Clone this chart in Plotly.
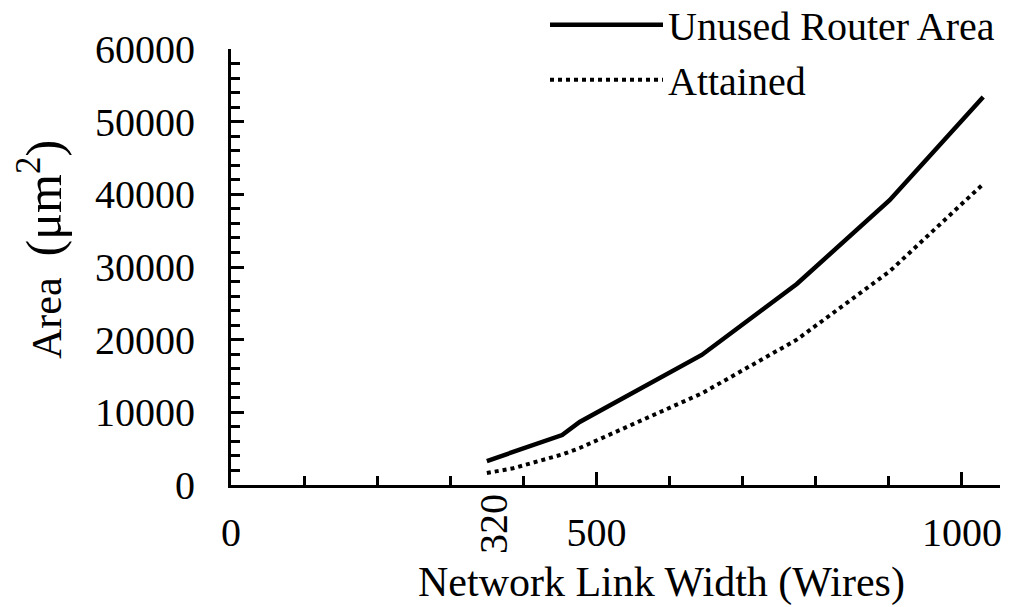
import plotly.graph_objects as go

# Data
link_width = [350, 386, 453, 477, 644, 774, 901, 1029]
unused_router_area = [3300, 4540, 6880, 8670, 17900, 27660, 39200, 53400]
attained = [1650, 2300, 4200, 5090, 12600, 20000, 29400, 41420]

x_tick_vals = [0, 500, 1000]
x_tick_text = ["0", "500", "1000"]
y_tick_vals = [0, 10000, 20000, 30000, 40000, 50000, 60000]
y_tick_text = ["0", "10000", "20000", "30000", "40000", "50000", "60000"]
first_label = "320"

FONT = "'Liberation Serif', 'DejaVu Serif', serif"

fig = go.Figure()
fig.add_trace(go.Scatter(x=link_width, y=unused_router_area, mode="lines",
                         name="Unused Router Area",
                         line=dict(color="black", width=4.5)))
fig.add_trace(go.Scatter(x=link_width, y=attained, mode="lines",
                         name="Attained",
                         line=dict(color="black", width=4, dash="dot")))

fig.update_layout(
    width=1025, height=607,
    margin=dict(l=231, r=25, t=49, b=122, autoexpand=False),
    paper_bgcolor="white", plot_bgcolor="white",
    font=dict(family=FONT, size=40, color="black"),
    showlegend=True,
    legend=dict(x=1.0, y=1.13, xanchor="right", yanchor="top",
                bgcolor="rgba(0,0,0,0)", itemwidth=113,
                font=dict(family=FONT, size=40), tracegroupgap=0),
    xaxis=dict(range=[0, 1052], tickvals=x_tick_vals, ticktext=x_tick_text,
               showgrid=False, zeroline=False, showline=True,
               linecolor="black", linewidth=3,
               ticks="inside", ticklen=13, tickwidth=3, tickcolor="black",
               ticklabelstandoff=10,
               minor=dict(dtick=100, ticks="inside", ticklen=9, tickwidth=3,
                          tickcolor="black", showgrid=False),
               tickfont=dict(family=FONT, size=40)),
    yaxis=dict(range=[0, 60000], tickvals=y_tick_vals, ticktext=y_tick_text,
               showgrid=False, zeroline=False, showline=True,
               linecolor="black", linewidth=3,
               ticks="inside", ticklen=13, tickwidth=3, tickcolor="black",
               ticklabelstandoff=25,
               minor=dict(dtick=2000, ticks="inside", ticklen=9, tickwidth=3,
                          tickcolor="black", showgrid=False),
               tickfont=dict(family=FONT, size=40)),
)

fig.add_annotation(text=first_label, x=link_width[0], xref="x", xshift=6,
                   y=-0.09, yref="paper", textangle=-90, showarrow=False,
                   xanchor="center", yanchor="middle",
                   font=dict(family=FONT, size=40))
fig.add_annotation(text="Network Link Width (Wires)",
                   x=(661 - 231) / (1000 - 231), xref="paper",
                   y=-0.2225, yref="paper", showarrow=False,
                   xanchor="center", yanchor="middle",
                   font=dict(family=FONT, size=42))
fig.add_annotation(text="Area  <span style='font-size:50px'>(μm<sup>2</sup>)</span>",
                   x=(41 - 231) / (1000 - 231), xref="paper",
                   y=0.539, yref="paper", textangle=-90, showarrow=False,
                   xanchor="center", yanchor="middle",
                   font=dict(family=FONT, size=42))

fig.write_html("out.html")
